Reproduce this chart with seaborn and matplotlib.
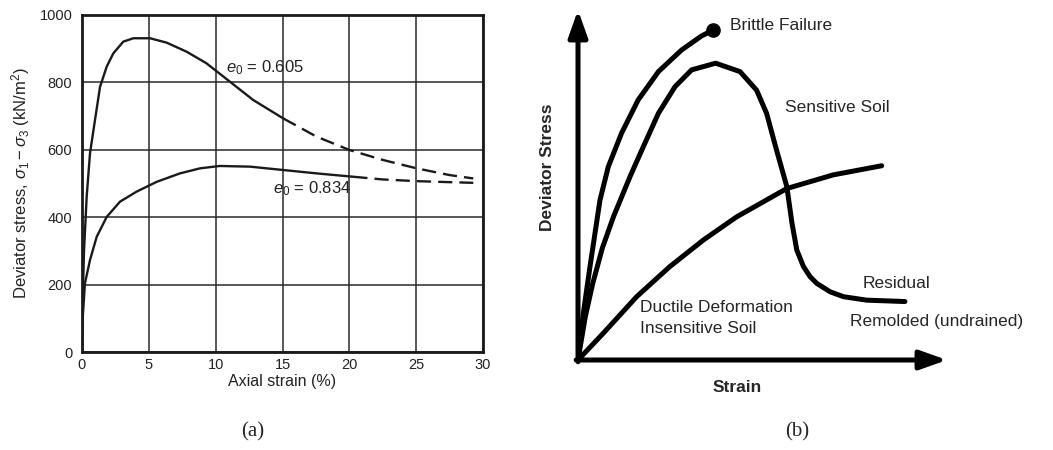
import matplotlib
matplotlib.use("Agg")
import matplotlib.pyplot as plt
import seaborn as sns

# ---------------- data: panel (a) ----------------
# e0 = 0.605 (solid part, then dashed extrapolation)
dense_strain_solid = [0, 0.05, 0.15, 0.35, 0.6, 0.97, 1.35, 1.85, 2.34, 3.09, 3.84, 5.09, 6.33,
                      7.83, 9.3, 11.07, 12.8, 15.06]
dense_stress_solid = [0, 150, 300, 461, 590, 688, 787, 847, 886, 921, 931, 931, 918,
                      891, 857, 802, 748, 693]
dense_strain_dash = [15.06, 17.55, 20.04, 22.5, 25.03, 27.5, 29.27]
dense_stress_dash = [693, 639, 599, 570, 545, 525, 515]
# e0 = 0.834
loose_strain_solid = [0, 0.05, 0.22, 0.6, 1.1, 1.85, 2.84, 4.09, 5.59, 7.33, 8.83, 10.3,
                      12.57, 15.06, 17.55, 20.3]
loose_stress_solid = [0, 100, 204, 273, 342, 401, 446, 476, 505, 530, 545, 552,
                      550, 540, 530, 520]
loose_strain_dash = [20.3, 22.5, 25.03, 27.5, 29.27]
loose_stress_dash = [520, 512, 507, 504, 502]
x_ticks = [0, 5, 10, 15, 20, 25, 30]
y_ticks = [0, 200, 400, 600, 800, 1000]

# ---------------- data: panel (b) (schematic, 0-100 units) ----------------
brittle_x = [0, 1.4, 3.25, 5.96, 8.2, 11.8, 16.3, 21.8, 28.1, 33.5, 36.7]
brittle_y = [0, 13.0, 26.7, 45.7, 55.2, 64.8, 74.3, 82.4, 88.6, 92.6, 94.3]
sensitive_x = [0, 2.0, 4.0, 6.6, 9.6, 14.1, 17.3, 21.8, 26.3, 30.8, 37.3, 43.9, 48.4, 51.1, 53.8,
               56.6, 58.0, 59.3, 61.1, 62.9, 64.7, 68.3, 71.9, 78.2, 88.6]
sensitive_y = [0, 12.5, 21.9, 32.0, 40.9, 52.4, 60.0, 70.5, 78.1, 82.9, 84.8, 82.4, 77.1, 70.5, 60.0,
               49.5, 39.0, 31.4, 26.7, 23.8, 21.9, 19.5, 18.1, 17.1, 16.7]
ductile_x = [0, 6.9, 15.9, 24.9, 34.0, 43.0, 56.6, 69.2, 82.3]
ductile_y = [0, 7.7, 18.1, 26.7, 34.3, 40.9, 49.0, 52.9, 55.5]

sns.set_theme(style="white")
plt.rcParams["font.family"] = ["Liberation Sans", "DejaVu Sans"]
plt.rcParams["mathtext.fontset"] = "custom"
plt.rcParams["mathtext.rm"] = "Liberation Sans"
plt.rcParams["mathtext.it"] = "Liberation Sans:italic"
plt.rcParams["lines.solid_joinstyle"] = "round"
plt.rcParams["lines.solid_capstyle"] = "round"

fig = plt.figure(figsize=(10.53, 4.5), dpi=100)

# ---------------- panel (a) ----------------
ax1 = fig.add_axes([82 / 1053, 1 - 352 / 450, (483 - 82) / 1053, (352 - 15) / 450])
lw = 1.7
ink = "#1a1a1a"
sns.lineplot(x=dense_strain_solid, y=dense_stress_solid, ax=ax1, color=ink, lw=lw, sort=False)
sns.lineplot(x=dense_strain_dash, y=dense_stress_dash, ax=ax1, color=ink, lw=lw, sort=False,
             linestyle=(0, (6, 3)))
sns.lineplot(x=loose_strain_solid, y=loose_stress_solid, ax=ax1, color=ink, lw=lw, sort=False)
sns.lineplot(x=loose_strain_dash, y=loose_stress_dash, ax=ax1, color=ink, lw=lw, sort=False,
             linestyle=(0, (6, 3)))
ax1.set_xlim(0, 30)
ax1.set_ylim(0, 1000)
ax1.set_xticks(x_ticks)
ax1.set_yticks(y_ticks)
ax1.grid(True, color="#2a2a2a", lw=1.1)
ax1.set_axisbelow(True)
for s in ax1.spines.values():
    s.set_color(ink)
    s.set_linewidth(2.0)
ax1.tick_params(axis="both", length=0, labelsize=10.5, colors="#222222")
ax1.tick_params(axis="y", pad=7)
ax1.tick_params(axis="x", pad=4)
ax1.set_xlabel("Axial strain (%)", fontsize=11.5, color="#222222", labelpad=2)
ax1.set_ylabel(r"Deviator stress, $\sigma_1 - \sigma_3$ (kN/m$^2$)", fontsize=12,
               color="#222222", labelpad=5)
ax1.text(10.8, 845, r"$e_0$ = 0.605", fontsize=12, va="center", ha="left", color="#222222")
ax1.text(14.3, 485, r"$e_0$ = 0.834", fontsize=12, va="center", ha="left", color="#222222")

# ---------------- panel (b) ----------------
ax2 = fig.add_axes([578 / 1053, 1 - 360 / 450, (947 - 578) / 1053, 350 / 450])
ax2.set_xlim(0, 100)
ax2.set_ylim(0, 100)
ax2.axis("off")
lw2 = 3.6
sns.lineplot(x=brittle_x, y=brittle_y, ax=ax2, color="black", lw=lw2, sort=False)
ax2.plot([brittle_x[-1]], [brittle_y[-1]], "o", color="black", ms=9.5, clip_on=False)
sns.lineplot(x=sensitive_x, y=sensitive_y, ax=ax2, color="black", lw=lw2, sort=False)
sns.lineplot(x=ductile_x, y=ductile_y, ax=ax2, color="black", lw=lw2, sort=False)
arrow = dict(arrowstyle="-|>,head_length=1.35,head_width=0.48", color="black", lw=3.6,
             shrinkA=0, shrinkB=0)
ax2.annotate("", xy=(100, 0), xytext=(-0.5, 0), arrowprops=arrow, annotation_clip=False)
ax2.annotate("", xy=(0, 100), xytext=(0, -0.5), arrowprops=arrow, annotation_clip=False)

fs = 12.5
ax2.text(41.2, 95.7, "Brittle Failure", fontsize=fs, va="center", ha="left")
ax2.text(56.1, 72.0, "Sensitive Soil", fontsize=fs, va="center", ha="left")
ax2.text(77.2, 22.0, "Residual", fontsize=fs, va="center", ha="left")
ax2.text(73.7, 10.9, "Remolded (undrained)", fontsize=fs, va="center", ha="left")
ax2.text(16.8, 15.1, "Ductile Deformation", fontsize=fs, va="center", ha="left")
ax2.text(16.8, 9.1, "Insensitive Soil", fontsize=fs, va="center", ha="left")
fig.text(547 / 1053, 1 - 167 / 450, "Deviator Stress", rotation=90, fontsize=12.5,
         fontweight="bold", ha="center", va="center")
fig.text(737 / 1053, 1 - 387 / 450, "Strain", fontsize=12.5, fontweight="bold",
         ha="center", va="center")

# captions
fig.text(253 / 1053, 1 - 432 / 450, "(a)", fontsize=15, family="Liberation Serif",
         ha="center", va="center")
fig.text(797 / 1053, 1 - 432 / 450, "(b)", fontsize=15, family="Liberation Serif",
         ha="center", va="center")

fig.savefig("out.png", dpi=100, facecolor="white")
